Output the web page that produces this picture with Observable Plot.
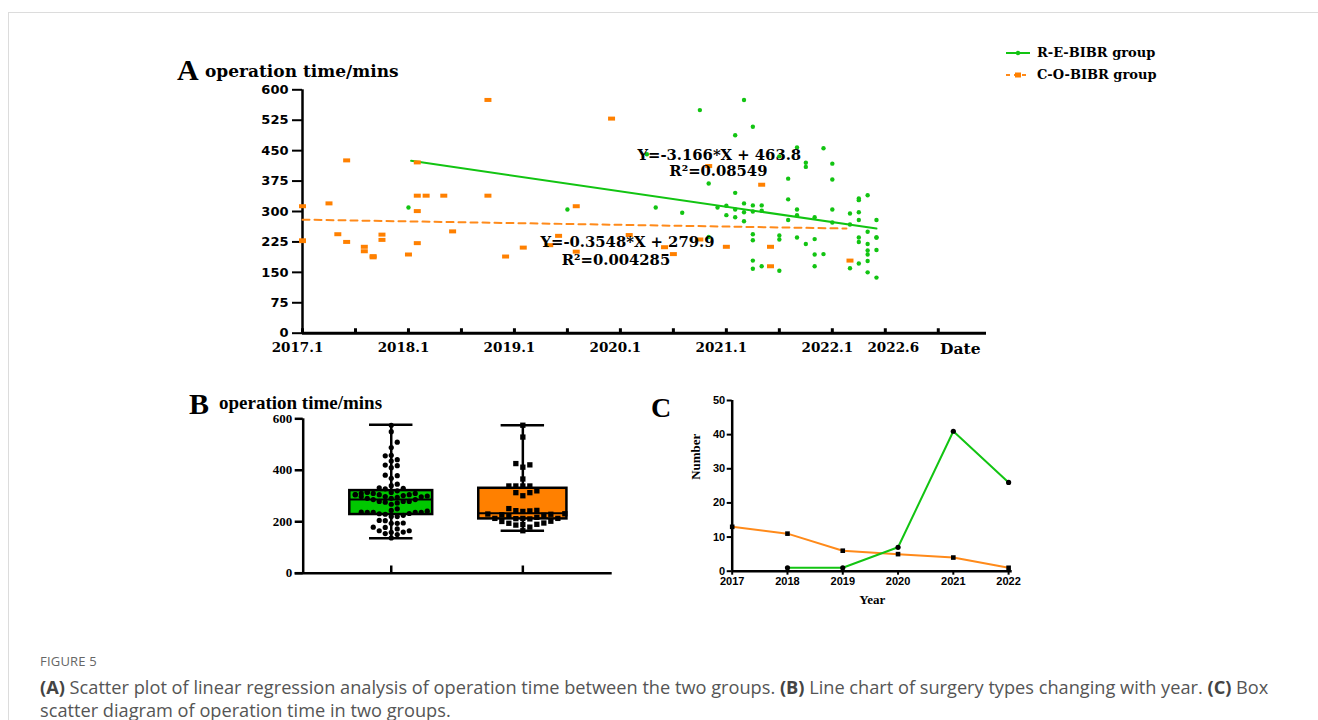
<!DOCTYPE html>
<html><head><meta charset="utf-8">
<script src="https://cdn.jsdelivr.net/npm/d3@7"></script>
<script src="https://cdn.jsdelivr.net/npm/@observablehq/plot@0.6"></script>
<style>
html,body{margin:0;padding:0;background:#fff}
body{width:1318px;height:720px;overflow:hidden;position:relative;font-family:"Open Sans",sans-serif}
.frame{position:absolute;left:8px;top:12px;width:1320px;height:720px;border-left:1px solid #dcdcdc;border-top:1px solid #dcdcdc}
.abs{position:absolute;white-space:nowrap}
.serif{font-family:"DejaVu Serif",serif;font-weight:bold;color:#000}
.times{font-family:"Liberation Serif",serif;font-weight:bold;color:#000}
#capHead{left:40px;top:652px;font-size:13px;color:#666;letter-spacing:0.2px}
#capText{left:40px;top:676px;font-size:18.2px;color:#555;line-height:23px}
#capText b{color:#444}
</style></head><body>
<div class="frame"></div>
<div id="A" class="abs" style="left:180px;top:50px"></div>
<div id="B" class="abs" style="left:200px;top:380px"></div>
<div id="C" class="abs" style="left:690px;top:385px"></div>
<div class="abs times" style="left:177px;top:55px;font-size:30px;line-height:30px">A</div>
<div class="abs serif" style="left:205px;top:62px;font-size:17px;line-height:18px">operation time/mins</div>
<div class="abs times" style="left:189px;top:389px;font-size:30px;line-height:30px">B</div>
<div class="abs times" style="left:219px;top:393px;font-size:19px;line-height:19px">operation time/mins</div>
<div class="abs times" style="left:651px;top:394px;font-size:28px;line-height:28px">C</div>
<div id="legend" class="abs serif" style="left:1005px;top:42px;font-size:13px;line-height:22px"></div>
<div id="capHead" class="abs">FIGURE 5</div>
<div id="capText" class="abs"><b>(A)</b> Scatter plot of linear regression analysis of operation time between the two groups. <b>(B)</b> Line chart of surgery types changing with year. <b>(C)</b> Box<br>scatter diagram of operation time in two groups.</div>
<script>
// ---------- DATA ----------
// Panel A: month index since January 2017, operation time (mins)
const reMonth = [12, 30,
  39,40,43,45,46,46,47,
  50,51,49,56,59,54,57,57,55,49,55,48,49,50,51,52,50,51,52,48,49,50,56,56,55,58,51,51,54,54,56,57,58,58,59,51,51,52,54,58,
  60,60,60,60,62,62,62,63,63,64,63,63,65,64,63,63,65,65,64,64,64,65,64,63,64,65];
const reTime = [310, 305,
  441,310,297,550,369,237,310,
  575,509,488,458,456,436,420,410,381,346,330,314,305,320,315,315,298,300,302,291,286,276,305,291,279,286,244,229,241,231,236,220,232,194,195,179,159,165,154,165,
  418,379,305,273,295,268,160,332,328,340,298,279,279,250,236,225,236,236,220,204,194,205,178,172,150,137];
const coMonth = [0,0,0,3,5,4,5,7,7,8,8,9,9,12,13,13,13,13,14,16,17,21,21,23,25,29,28,31,31,35,37,41,42,45,46,48,52,53,53,62];
const coTime  = [313,229,227,320,426,244,225,213,202,190,187,243,230,194,421,339,301,222,339,339,251,575,339,189,211,240,217,313,201,529,242,212,195,231,412,213,366,213,165,179];

const groups = ["R-E-BIBR group", "C-O-BIBR group"];
const regSlope = [-3.166, -0.3548];
const regIntercept = [463.8, 279.9];
const regFrom = [12.3, 0];
const regTo = [65.0, 61.6];
const eqText = ["Y=-3.166*X + 463.8", "R²=0.08549", "Y=-0.3548*X + 279.9", "R²=0.004285"];
const eqX = [47.2, 47.1, 36.8, 35.5];
const eqY = [438.7, 398, 224, 179.5];

const yTicksA = [0,75,150,225,300,375,450,525,600];
const xTicksA = [0,6,12,18,24,30,36,42,48,54,60,66,72];
const xLabelMonthsA = [0,12,24,36,48,60];
const xLabelsA = ["2017.1","2018.1","2019.1","2020.1","2021.1","2022.1"];
const xLastMonthA = 66, xLastLabelA = "2022.6";

// Panel B: box statistics
const boxPos = [1, 2];
const boxMin = [136, 165];
const boxQ1 = [228, 211];
const boxMed = [286, 233];
const boxQ3 = [321, 330];
const boxMax = [577, 575];
const yTicksB = [0,200,400,600];

// Panel C: number of cases per year
const years = [2017,2018,2019,2020,2021,2022];
const reCount = [null,1,1,7,41,26];
const coCount = [13,11,6,5,4,1];
const yTicksC = [0,10,20,30,40,50];

const GREEN = "#12c412";
const ORANGE = "#ff8a1a";
const ORANGE_FILL = "#ff8000";

// ---------- PANEL A ----------
const reA = reMonth.map((m,i)=>({m, t: reTime[i]}));
const coA = coMonth.map((m,i)=>({m, t: coTime[i]}));
const regLines = groups.map((g,i)=>[regFrom[i], regTo[i]].map(m=>({g, m, t: regIntercept[i] + regSlope[i]*m})));
const eqs = eqText.map((s,i)=>({s, x: eqX[i], y: eqY[i]}));
const rectSym = {draw(ctx){ ctx.moveTo(-3.5,-2); ctx.lineTo(3.5,-2); ctx.lineTo(3.5,2); ctx.lineTo(-3.5,2); ctx.closePath(); }};
const sansB = "DejaVu Sans";
const serifB = "DejaVu Serif";
const xLabelStyle = {label: null, tickSize: 0, tickPadding: 9, fontFamily: serifB, fontWeight: "bold", fontSize: 13.5};

const plotA = Plot.plot({
  width: 830, height: 310,
  marginLeft: 122, marginRight: 24, marginTop: 39.3, marginBottom: 27.3,
  x: {domain: [0, 77.46], axis: null},
  y: {domain: [0, 600], axis: null},
  style: {background: "transparent", color: "#000", overflow: "visible"},
  marks: [
    Plot.axisY({ticks: yTicksA, label: null, tickSize: 10, tickPadding: 4, strokeWidth: 2, fontFamily: sansB, fontWeight: "bold", fontSize: 13}),
    Plot.axisX({...xLabelStyle, ticks: xLabelMonthsA, dx: -5, tickFormat: m => xLabelsA[xLabelMonthsA.indexOf(m)]}),
    Plot.axisX({...xLabelStyle, ticks: [xLastMonthA], dx: 8, tickFormat: () => xLastLabelA}),
    Plot.ruleX(xTicksA, {x: d=>d, y1: 0, y2: 11, strokeWidth: 3}),
    Plot.ruleY([0], {x1: 0, x2: 77.46, strokeWidth: 3}),
    Plot.ruleX([0], {y1: 0, y2: 600, strokeWidth: 2.5}),
    Plot.line(regLines[1], {x: "m", y: "t", stroke: ORANGE, strokeWidth: 2, strokeDasharray: "7,5"}),
    Plot.line(regLines[0], {x: "m", y: "t", stroke: GREEN, strokeWidth: 2}),
    Plot.dot(coA, {x: "m", y: "t", symbol: rectSym, r: 3, fill: ORANGE_FILL, stroke: "none"}),
    Plot.dot(reA, {x: "m", y: "t", r: 2.2, fill: GREEN, stroke: "none"}),
    Plot.text(eqs, {x: "x", y: "y", text: "s", fontFamily: serifB, fontWeight: "bold", fontSize: 14.8, fill: "#000"}),
    Plot.text(["Date"], {frameAnchor: "bottom-right", dx: -6, dy: 21, fontFamily: serifB, fontWeight: "bold", fontSize: 15.5, fill: "#000"})
  ]
});
document.getElementById("A").appendChild(plotA);

// ---------- PANEL B ----------
const pxPerUnitYB = 154.4/600, pxPerUnitXB = 131.6;
function swarm(values, step, diam, maxOff){
  const idx = values.map((v,i)=>i).sort((a,b)=>values[a]-values[b]);
  const placed = [], off = new Array(values.length).fill(0);
  for (const i of idx){
    const y = values[i]*pxPerUnitYB;
    let best = 0, found = false;
    for (let k=0;k<60;k++){
      const o = k===0 ? 0 : (k%2 ? 1 : -1)*Math.ceil(k/2)*step;
      if (Math.abs(o) > maxOff) break;
      if (!placed.some(p => (p.x-o)**2 + (p.y-y)**2 < diam*diam - 0.01)){ best = o; found = true; break; }
    }
    if (!found) {
      // least crowded slot within the allowed width
      let minC = Infinity;
      for (let o=-Math.floor(maxOff/step)*step; o<=maxOff; o+=step){
        const c = placed.filter(p => Math.abs(p.x-o)<0.1 && Math.abs(p.y-y)<diam).length;
        if (c < minC){ minC = c; best = o; }
      }
    }
    placed.push({x: best, y}); off[i] = best/pxPerUnitXB;
  }
  return off;
}
const reOff = swarm(reTime, 6, 5.5, 40);
const coOff = swarm(coTime, 7, 6, 42);
const reB = reTime.map((t,i)=>({x: 1 + reOff[i], t}));
const coB = coTime.map((t,i)=>({x: 2 + coOff[i], t}));
const boxes = boxPos.map((p,i)=>({p, min: boxMin[i], q1: boxQ1[i], med: boxMed[i], q3: boxQ3[i], max: boxMax[i], fill: i===0 ? "#00c800" : ORANGE_FILL}));
const boxHalf = [0.315, 0.335], capHalf = 0.165;

const plotB = Plot.plot({
  width: 420, height: 200,
  marginLeft: 102.7, marginRight: 8.3, marginTop: 38.3, marginBottom: 7.3,
  x: {domain: [0.331, 2.679], axis: null},
  y: {domain: [0, 600], axis: null},
  style: {background: "transparent", color: "#000", overflow: "visible"},
  marks: [
    Plot.axisY({ticks: yTicksB, label: null, tickSize: 8, tickPadding: 3, strokeWidth: 2.5, fontFamily: "Liberation Serif", fontWeight: "bold", fontSize: 13}),
    Plot.ruleY([0], {x1: 0.27, x2: 2.679, strokeWidth: 2.5}),
    Plot.ruleX([0.331], {y1: 0, y2: 600, strokeWidth: 2.5}),
    Plot.ruleX(boxPos, {x: d=>d, y1: 0, y2: 28, strokeWidth: 2.5}),
    Plot.ruleX(boxes, {x: "p", y1: "q3", y2: "max", strokeWidth: 2.5}),
    Plot.ruleX(boxes, {x: "p", y1: "min", y2: "q1", strokeWidth: 2.5}),
    Plot.ruleY(boxes, {y: "max", x1: d=>d.p-capHalf, x2: d=>d.p+capHalf, strokeWidth: 2.5}),
    Plot.ruleY(boxes, {y: "min", x1: d=>d.p-capHalf, x2: d=>d.p+capHalf, strokeWidth: 2.5}),
    Plot.rect(boxes, {x1: (d,i)=>d.p-boxHalf[i], x2: (d,i)=>d.p+boxHalf[i], y1: "q1", y2: "q3", fill: "fill", stroke: "#000", strokeWidth: 2.5}),
    Plot.ruleY(boxes, {y: "med", x1: (d,i)=>d.p-boxHalf[i], x2: (d,i)=>d.p+boxHalf[i], strokeWidth: 2}),
    Plot.dot(reB, {x: "x", y: "t", r: 2.6, fill: "#000", stroke: "none"}),
    Plot.dot(coB, {x: "x", y: "t", symbol: "square", r: 3, fill: "#000", stroke: "none"})
  ]
});
document.getElementById("B").appendChild(plotB);

// ---------- PANEL C ----------
const reC = years.map((y,i)=>({y, n: reCount[i]}));
const coC = years.map((y,i)=>({y, n: coCount[i]}));
const plotC = Plot.plot({
  width: 340, height: 230,
  marginLeft: 41.7, marginRight: 18.3, marginTop: 15, marginBottom: 44.3,
  x: {domain: [2017, 2022.065], axis: null},
  y: {domain: [0, 50], axis: null},
  style: {background: "transparent", color: "#000", overflow: "visible"},
  marks: [
    Plot.axisY({ticks: yTicksC, label: null, tickSize: 5, tickPadding: 2, strokeWidth: 2, fontFamily: "Liberation Sans", fontWeight: "bold", fontSize: 11}),
    Plot.axisX({ticks: years, label: null, tickSize: 4, tickPadding: 2, strokeWidth: 2, tickFormat: d=>String(d), fontFamily: "Liberation Sans", fontWeight: "bold", fontSize: 11}),
    Plot.ruleY([0], {x1: 2017, x2: 2022.065, strokeWidth: 2.5}),
    Plot.ruleX([2017], {y1: 0, y2: 50, strokeWidth: 2.5}),
    Plot.line(coC, {x: "y", y: "n", stroke: ORANGE, strokeWidth: 2}),
    Plot.line(reC.filter(d=>d.n!=null), {x: "y", y: "n", stroke: GREEN, strokeWidth: 2}),
    Plot.dot(coC, {x: "y", y: "n", symbol: "square", r: 2.6, fill: "#000", stroke: "none"}),
    Plot.dot(reC.filter(d=>d.n!=null), {x: "y", y: "n", r: 2.6, fill: "#000", stroke: "none"}),
    Plot.text(["Number"], {frameAnchor: "left", rotate: -90, dx: -36, dy: -6, fontFamily: "Liberation Serif", fontWeight: "bold", fontSize: 13, fill: "#000"}),
    Plot.text(["Year"], {frameAnchor: "bottom", dy: 33, fontFamily: "Liberation Serif", fontWeight: "bold", fontSize: 13, fill: "#000"})
  ]
});
document.getElementById("C").appendChild(plotC);

// ---------- LEGEND ----------
const legendItems = [
  {label: groups[0], color: GREEN, dash: null, marker: "dot"},
  {label: groups[1], color: ORANGE, dash: "4,4", marker: "square"}
];
document.getElementById("legend").innerHTML = legendItems.map(it => {
  const mk = it.marker === "dot"
    ? `<circle cx="13" cy="6" r="2.2" fill="${it.color}"/>`
    : `<rect x="10" y="3.5" width="6" height="5" fill="${ORANGE_FILL}"/>`;
  const dash = it.dash ? ` stroke-dasharray="${it.dash}"` : "";
  return `<div style="display:flex;align-items:center;height:22px"><svg width="26" height="12" style="margin-right:6px"><line x1="1" x2="25" y1="6" y2="6" stroke="${it.color}" stroke-width="2"${dash}/>${mk}</svg><span>${it.label}</span></div>`;
}).join("");
</script>
</body></html>
